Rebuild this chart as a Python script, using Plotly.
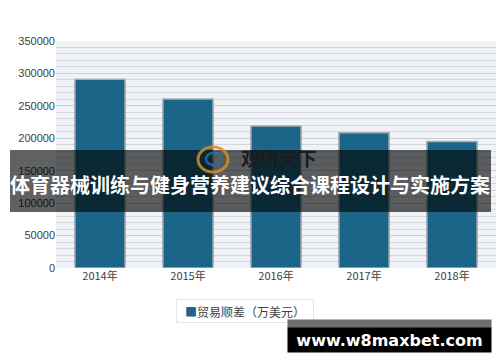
import plotly.graph_objects as go

years = ["2014年", "2015年", "2016年", "2017年", "2018年"]
surplus = [291000, 260500, 219000, 208500, 195000]
series_name = "贸易顺差（万美元）"
y_ticks = [0, 50000, 100000, 150000, 200000, 250000, 300000, 350000]
title_text = "体育器械训练与健身营养建议综合课程设计与实施方案"
watermark = "观研天下"
site_text = "www.w8maxbet.com"

L, R, T, B = 56, 4, 41, 94
W, H = 500, 362
pw, ph = W - L - R, H - T - B

def px(x):
    return (x - L) / pw

def py(y):
    return (H - B - y) / ph

fig = go.Figure()
fig.add_trace(go.Bar(
    x=years, y=surplus, name=series_name,
    marker=dict(color="#1b6688", line=dict(color="#a7adb2", width=1.5)),
    width=0.57, showlegend=False,
))

fig.update_layout(
    width=W, height=H,
    margin=dict(l=L, r=R, t=T, b=B),
    paper_bgcolor="white",
    plot_bgcolor="#eff3f8",
    font=dict(family="Liberation Sans, Noto Sans CJK SC", size=11, color="#404040"),
    showlegend=False,
    xaxis=dict(showgrid=False, showline=False, ticks="",
               tickfont=dict(family="Noto Sans CJK SC", size=11, color="#404040")),
    yaxis=dict(range=[0, 350000], tickvals=y_ticks, ticktext=[str(v) for v in y_ticks],
               showgrid=True, gridcolor="#c9ced3", gridwidth=1, zeroline=False,
               minor=dict(dtick=10000, showgrid=True, gridcolor="#d3d7dc", gridwidth=1),
               tickfont=dict(size=11, color="#404040")),
    bargap=0.43,
)

shapes = [
    dict(type="rect", xref="paper", yref="paper",
         x0=px(10), x1=px(491), y0=py(212), y1=py(150),
         fillcolor="rgba(0,0,0,0.62)", line=dict(width=0), layer="above"),
    dict(type="circle", xref="paper", yref="paper",
         x0=px(198), x1=px(228), y0=py(172), y1=py(147),
         fillcolor="rgba(0,0,0,0)", line=dict(color="rgba(214,140,40,0.85)", width=3), layer="above"),
    dict(type="circle", xref="paper", yref="paper",
         x0=px(206), x1=px(221), y0=py(165), y1=py(153),
         fillcolor="rgba(0,0,0,0)", line=dict(color="rgba(40,110,160,0.85)", width=2.5), layer="above"),
]
fig.update_layout(shapes=shapes)

# legend drawn as a boxed label
fig.add_annotation(x=px(245), y=py(311), xref="paper", yref="paper", showarrow=False,
                   xanchor="center", yanchor="middle",
                   text="<span style='color:#1b6688'>■</span>" + series_name,
                   font=dict(family="Noto Sans CJK SC", size=12, color="#404040"),
                   bgcolor="white", bordercolor="#e6e6e6", borderwidth=1,
                   width=134, height=20)

fig.add_annotation(x=px(279), y=py(157), xref="paper", yref="paper", showarrow=False,
                   xanchor="center", yanchor="middle",
                   text="<b>" + watermark + "</b>",
                   font=dict(family="Noto Sans CJK SC", size=19, color="#1c1c1c"))
fig.add_annotation(x=px(250), y=py(184), xref="paper", yref="paper", showarrow=False,
                   xanchor="center", yanchor="middle",
                   text="<b>" + title_text + "</b>",
                   font=dict(family="Noto Sans CJK SC", size=20, color="white"))
fig.add_annotation(x=px(389.5), y=py(324), xref="paper", yref="paper", showarrow=False,
                   xanchor="center", yanchor="middle",
                   text=" ", bgcolor="#6e6e6e", width=203, height=8, borderpad=0,
                   font=dict(size=4))
fig.add_annotation(x=px(389.5), y=py(340), xref="paper", yref="paper", showarrow=False,
                   xanchor="center", yanchor="middle",
                   text="<b>" + site_text + "</b>", bgcolor="black",
                   width=203, height=24, borderpad=0,
                   font=dict(family="DejaVu Sans", size=16, color="white"))

fig.write_html("out.html")
